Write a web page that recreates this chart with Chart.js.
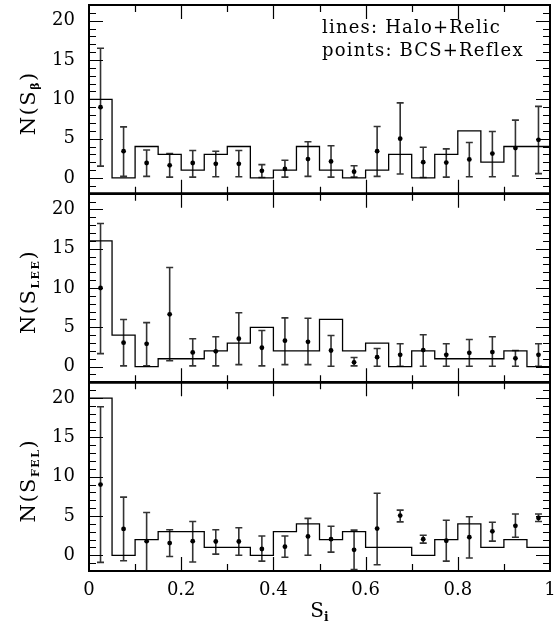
<!DOCTYPE html>
<html>
<head>
<meta charset="utf-8">
<script src="https://cdn.jsdelivr.net/npm/chart.js@4.4.1/dist/chart.umd.min.js"></script>
<style>
  html, body { margin: 0; padding: 0; background: #fff; }
</style>
</head>
<body>
<canvas id="chart" width="556" height="630"></canvas>
<script>
// S_i bins (20 bins of width 0.05)
const binCenters = [0.025, 0.075, 0.125, 0.175, 0.225, 0.275, 0.325, 0.375, 0.425, 0.475,
                    0.525, 0.575, 0.625, 0.675, 0.725, 0.775, 0.825, 0.875, 0.925, 0.975];
const binWidth = 0.05;
const xTicks = [0, 0.2, 0.4, 0.6, 0.8, 1];
const yTicks = [0, 5, 10, 15, 20];

// lines: Halo+Relic histograms
const haloBeta = [10, 0, 4, 3, 1, 3, 4, 0, 1, 4, 1, 0, 1, 3, 0, 3, 6, 2, 4, 4];
const haloLee  = [16, 4, 0, 1, 1, 2, 3, 5, 2, 2, 6, 2, 3, 0, 2, 1, 1, 1, 2, 0];
const haloFel  = [20, 0, 2, 3, 3, 1, 1, 0, 3, 4, 2, 3, 1, 1, 0, 2, 4, 1, 2, 1];

// points: BCS+Reflex, with lower / upper end of the error bars
const bcsBeta   = [9.0, 3.4, 1.9, 1.6, 1.9, 1.8, 1.8, 0.9, 1.15, 2.4, 2.1, 0.8, 3.4, 5.0, 2.0, 1.95, 2.35, 3.1, 3.8, 4.85];
const bcsBetaLo = [1.5, 0.2, 0.2, 0.1, 0.1, 0.15, 0.15, 0.05, 0.1, 0.2, 0.1, 0.1, 0.2, 0.5, 0.05, 0.1, 0.15, 0.15, 0.25, 0.55];
const bcsBetaHi = [16.5, 6.5, 3.55, 3.1, 3.5, 3.4, 3.5, 1.7, 2.25, 4.6, 4.1, 1.55, 6.55, 9.55, 3.9, 3.7, 4.5, 5.9, 7.35, 9.1];

const bcsLee   = [10.0, 3.05, 2.9, 6.65, 1.8, 1.95, 3.55, 2.4, 3.3, 3.15, 2.05, 0.55, 1.2, 1.5, 2.1, 1.5, 1.75, 1.85, 1.05, 1.5];
const bcsLeeLo = [1.65, 0.1, 0.1, 0.75, 0.1, 0.1, 0.25, 0.1, 0.25, 0.25, 0.05, 0.1, 0.05, 0.05, 0.05, 0.05, 0.05, 0.05, 0.05, 0.05];
const bcsLeeHi = [18.2, 6.0, 5.6, 12.6, 3.55, 3.8, 6.85, 4.6, 6.2, 6.15, 3.95, 1.15, 2.3, 2.9, 4.05, 2.9, 3.45, 3.8, 2.05, 2.9];

const bcsFel   = [9.0, 3.35, 1.8, 1.55, 1.8, 1.75, 1.75, 0.8, 1.1, 2.4, 2.05, 0.7, 3.4, 5.05, 2.05, 1.85, 2.3, 3.05, 3.75, 4.75];
const bcsFelLo = [-0.9, -0.7, -2.2, -0.15, -0.85, 0.15, 0.0, -0.75, -0.25, 0.0, 0.4, -1.8, -1.2, 4.25, 1.55, -0.75, -0.35, 1.8, 2.3, 4.3];
const bcsFelHi = [18.9, 7.4, 5.45, 3.25, 4.3, 3.25, 3.5, 2.45, 2.45, 4.7, 3.7, 3.2, 7.9, 5.75, 2.55, 4.45, 4.9, 4.2, 5.25, 5.25];

const serif = '"DejaVu Serif", "Liberation Serif", serif';

const panels = [
  { axis: 'y1', sub: 'β', halo: haloBeta, pts: bcsBeta, lo: bcsBetaLo, hi: bcsBetaHi },
  { axis: 'y2', sub: 'LEE', halo: haloLee, pts: bcsLee, lo: bcsLeeLo, hi: bcsLeeHi },
  { axis: 'y3', sub: 'FEL', halo: haloFel, pts: bcsFel, lo: bcsFelLo, hi: bcsFelHi }
];

function histPoints(vals) {
  // left edge of each bin, plus the right edge of the last one
  const pts = binCenters.map((c, i) => ({ x: c - binWidth / 2, y: vals[i] }));
  pts.push({ x: binCenters[binCenters.length - 1] + binWidth / 2, y: vals[vals.length - 1] });
  return pts;
}

const datasets = [];
panels.forEach(p => {
  datasets.push({
    type: 'line',
    data: histPoints(p.halo),
    stepped: true,
    borderColor: '#000',
    borderWidth: 1.3,
    pointRadius: 0,
    fill: false,
    yAxisID: p.axis
  });
  datasets.push({
    type: 'scatter',
    data: binCenters.map((c, i) => ({ x: c, y: p.pts[i] })),
    pointRadius: 2.4,
    backgroundColor: '#000',
    borderWidth: 0,
    yAxisID: p.axis
  });
});

// text with a subscript, drawn at the current origin, centred
function subText(ctx, main, sub, close, size, subSize, spacing) {
  ctx.letterSpacing = spacing + 'px';
  ctx.font = size + 'px ' + serif;
  const w1 = ctx.measureText(main).width;
  const w3 = ctx.measureText(close).width;
  ctx.font = 'bold ' + subSize + 'px ' + serif;
  const w2 = ctx.measureText(sub).width;
  let x = -(w1 + w2 + w3) / 2;
  ctx.textAlign = 'left';
  ctx.textBaseline = 'alphabetic';
  ctx.font = size + 'px ' + serif;
  ctx.fillText(main, x, 0);
  x += w1;
  ctx.font = 'bold ' + subSize + 'px ' + serif;
  ctx.fillText(sub, x, 4);
  x += w2;
  ctx.font = size + 'px ' + serif;
  ctx.fillText(close, x, 0);
}

const framePlugin = {
  id: 'framePlugin',
  beforeDatasetsDraw(chart) {
    const ctx = chart.ctx;
    const xs = chart.scales.x;
    const ca = chart.chartArea;
    panels.forEach(p => {
      const ys = chart.scales[p.axis];
      ctx.save();
      ctx.beginPath();
      ctx.rect(ca.left, ys.top, ca.right - ca.left, ys.bottom - ys.top);
      ctx.clip();
      ctx.strokeStyle = '#333';
      ctx.lineWidth = 1.6;
      binCenters.forEach((c, i) => {
        const x = xs.getPixelForValue(c);
        const yl = ys.getPixelForValue(p.lo[i]);
        const yh = ys.getPixelForValue(p.hi[i]);
        ctx.beginPath();
        ctx.moveTo(x, yl); ctx.lineTo(x, yh);
        ctx.moveTo(x - 3.5, yl); ctx.lineTo(x + 3.5, yl);
        ctx.moveTo(x - 3.5, yh); ctx.lineTo(x + 3.5, yh);
        ctx.stroke();
      });
      ctx.restore();
    });
  },
  afterDraw(chart) {
    const ctx = chart.ctx;
    const xs = chart.scales.x;
    const ca = chart.chartArea;
    ctx.save();
    ctx.strokeStyle = '#000';
    ctx.fillStyle = '#000';

    panels.forEach(p => {
      const ys = chart.scales[p.axis];
      // inward ticks
      ctx.lineWidth = 1.2;
      ctx.beginPath();
      for (let v = -1; v <= 21; v++) {
        const y = Math.round(ys.getPixelForValue(v)) + 0.5;
        const len = v % 5 === 0 ? 14 : 7;
        ctx.moveTo(ca.left, y); ctx.lineTo(ca.left + len, y);
        ctx.moveTo(ca.right, y); ctx.lineTo(ca.right - len, y);
      }
      for (let t = 1; t <= 9; t++) {
        const x = Math.round(xs.getPixelForValue(t / 10)) + 0.5;
        const len = t % 2 === 0 ? 14 : 7;
        ctx.moveTo(x, ys.top); ctx.lineTo(x, ys.top + len);
        ctx.moveTo(x, ys.bottom); ctx.lineTo(x, ys.bottom - len);
      }
      ctx.stroke();

      // y title
      ctx.save();
      ctx.translate(28, (ys.top + ys.bottom) / 2 + 4);
      ctx.rotate(-Math.PI / 2);
      ctx.translate(0, 7);
      subText(ctx, 'N(S', p.sub, ')', 21, 11, 1.5);
      ctx.restore();
    });

    // frame and panel separators
    ctx.lineWidth = 2;
    ctx.strokeRect(ca.left, ca.top, ca.right - ca.left, ca.bottom - ca.top);
    ctx.lineWidth = 2.6;
    ctx.beginPath();
    ['y1', 'y2'].forEach(id => {
      const b = chart.scales[id].bottom;
      ctx.moveTo(ca.left, b); ctx.lineTo(ca.right, b);
    });
    ctx.stroke();

    // x title
    ctx.save();
    ctx.translate((ca.left + ca.right) / 2, 617);
    subText(ctx, 'S', 'i', '', 20, 12, 0);
    ctx.restore();

    // key text
    ctx.letterSpacing = '1.2px';
    ctx.font = '18px ' + serif;
    ctx.textAlign = 'left';
    ctx.textBaseline = 'alphabetic';
    ctx.fillText('lines: Halo+Relic', 322, 33);
    ctx.fillText('points: BCS+Reflex', 322, 56);
    ctx.restore();
  }
};

function yAxis(weight) {
  return {
    type: 'linear',
    position: 'left',
    stack: 'panels',
    stackWeight: 1,
    weight: weight,
    min: -2,
    max: 22,
    grid: { display: false, drawTicks: false },
    border: { display: false },
    ticks: { color: '#000', padding: 14, font: { family: serif, size: 18 } },
    afterBuildTicks: s => { s.ticks = yTicks.map(v => ({ value: v })); },
    afterFit: s => { s.width = 89; s.paddingTop = 0; s.paddingBottom = 0; }
  };
}

new Chart(document.getElementById('chart'), {
  type: 'line',
  data: { datasets: datasets },
  options: {
    responsive: false,
    animation: false,
    devicePixelRatio: 1,
    layout: { padding: { top: 5, right: 6, left: 0, bottom: 0 } },
    plugins: { legend: { display: false }, tooltip: { enabled: false } },
    scales: {
      x: {
        type: 'linear',
        min: 0,
        max: 1,
        grid: { display: false, drawTicks: false },
        border: { display: false },
        ticks: {
          color: '#000', padding: 9, autoSkip: false, maxRotation: 0,
          font: { family: serif, size: 18 },
          callback: v => String(v)
        },
        afterBuildTicks: s => { s.ticks = xTicks.map(v => ({ value: v })); },
        afterFit: s => { s.height = 59; s.paddingLeft = 0; s.paddingRight = 0; }
      },
      y1: yAxis(3),
      y2: yAxis(2),
      y3: yAxis(1)
    }
  },
  plugins: [framePlugin]
});
</script>
</body>
</html>
